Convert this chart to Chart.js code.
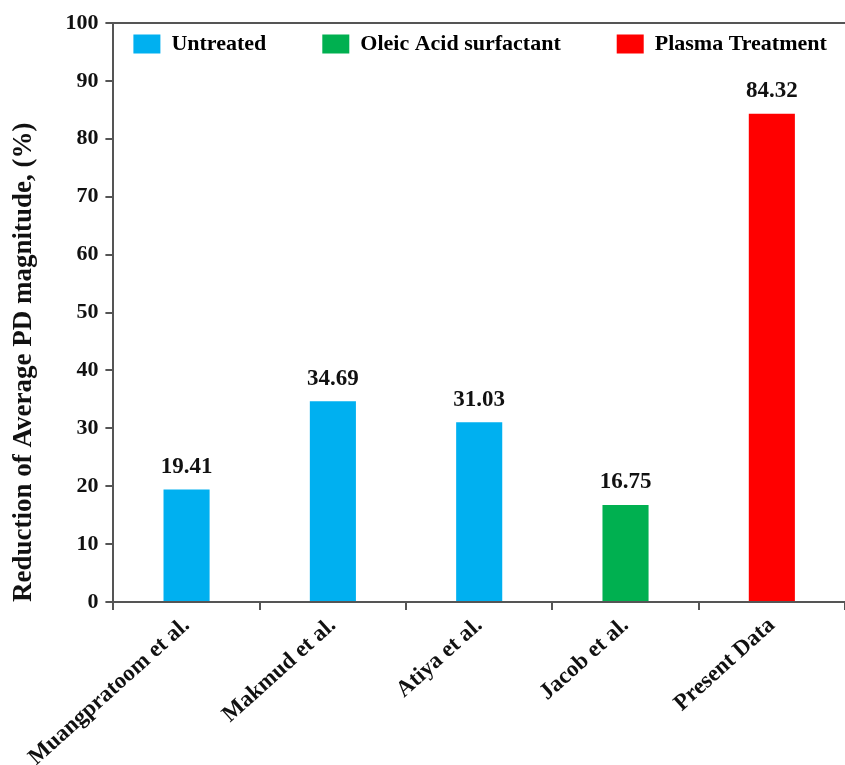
<!DOCTYPE html>
<html>
<head>
<meta charset="utf-8">
<script src="https://cdn.jsdelivr.net/npm/chart.js@4.4.1/dist/chart.umd.min.js"></script>
<style>
  html, body { margin: 0; padding: 0; background: #fff; }
  #wrap { width: 845px; height: 765px; }
</style>
</head>
<body>
<div id="wrap"><canvas id="chart"></canvas></div>
<script>
var categories = ['Muangpratoom et al.', 'Makmud et al.', 'Atiya et al.', 'Jacob et al.', 'Present Data'];
var reduction = [19.41, 34.69, 31.03, 16.75, 84.32];
var groupOfBar = [0, 0, 0, 1, 2];
var groups = ['Untreated', 'Oleic Acid surfactant', 'Plasma Treatment'];
var groupColors = ['#00B0F0', '#00B050', '#FF0000'];
var yTicks = [0, 10, 20, 30, 40, 50, 60, 70, 80, 90, 100];

var serif = '"Liberation Serif", "Times New Roman", serif';
var axisColor = '#555555';
var legendGap = 56;

// value labels above each bar
var valueLabels = {
    id: 'valueLabels',
    afterDatasetsDraw(chart) {
        var ctx = chart.ctx;
        var meta = chart.getDatasetMeta(0);
        ctx.save();
        ctx.font = 'bold 23px ' + serif;
        ctx.fillStyle = '#111';
        ctx.textAlign = 'center';
        ctx.textBaseline = 'bottom';
        meta.data.forEach((bar, i) => {
            ctx.fillText(reduction[i].toFixed(2), bar.x, bar.y - 11);
        });
        ctx.restore();
    }
};

// legend sits inside the plot (top left) on one row, so it takes no room from it
var legendInside = {
    id: 'legendInside',
    beforeLayout(chart) {
        var lg = chart.legend;
        if (lg && !lg._inside) {
            var fit = lg.fit;
            lg.fit = function () {
                this.maxWidth = 1500;
                fit.call(this);
                this._realHeight = this.height;
                this.height = 0;
            };
            lg._inside = true;
        }
    },
    afterLayout(chart) {
        var lg = chart.legend;
        var area = chart.chartArea;
        if (lg && lg._realHeight) {
            lg.left = area.left + 20 - legendGap;
            lg.right = area.right + 400;
            lg.width = lg.right - lg.left;
            lg.top = area.top + 10 - legendGap;
            lg.height = lg._realHeight + legendGap;
            lg.bottom = lg.top + lg.height;
        }
    }
};

new Chart(document.getElementById('chart').getContext('2d'), {
    type: 'bar',
    data: {
        labels: categories,
        datasets: [{
            data: reduction,
            backgroundColor: groupOfBar.map(g => groupColors[g]),
            barPercentage: 0.315,
            categoryPercentage: 1
        }]
    },
    options: {
        responsive: true,
        maintainAspectRatio: false,
        animation: false,
        layout: { padding: { left: 8, top: 23, right: 0, bottom: 0 } },
        plugins: {
            tooltip: { enabled: false },
            legend: {
                position: 'top',
                align: 'start',
                labels: {
                    boxWidth: 27,
                    boxHeight: 19,
                    padding: legendGap,
                    color: '#111',
                    font: { family: serif, size: 22, weight: 'bold' },
                    generateLabels: () => groups.map((g, i) => ({
                        text: g,
                        fillStyle: groupColors[i],
                        strokeStyle: groupColors[i],
                        lineWidth: 0,
                        hidden: false
                    }))
                }
            }
        },
        scales: {
            x: {
                grid: { drawOnChartArea: false, drawTicks: true, tickLength: 8, color: axisColor, lineWidth: 2 },
                border: { color: axisColor, width: 2 },
                ticks: {
                    color: '#111',
                    maxRotation: 42,
                    minRotation: 42,
                    padding: 2,
                    font: { family: serif, size: 23, weight: 'bold' }
                },
                afterFit(scale) {
                    scale.paddingLeft = 0;
                    scale.paddingRight = 0;
                    scale.height = 163;
                }
            },
            x2: {
                position: 'top',
                grid: { drawOnChartArea: false, drawTicks: false },
                border: { color: axisColor, width: 2 },
                ticks: { display: false },
                afterFit(scale) {
                    scale.height = 0;
                }
            },
            y: {
                min: 0,
                max: 100,
                afterBuildTicks(scale) {
                    scale.ticks = yTicks.map(v => ({ value: v }));
                },
                grid: { drawOnChartArea: false, drawTicks: true, tickLength: 8, color: axisColor, lineWidth: 2 },
                border: { color: axisColor, width: 2 },
                ticks: {
                    color: '#111',
                    padding: 7,
                    font: { family: serif, size: 22, weight: 'bold' }
                },
                title: {
                    display: true,
                    align: 'start',
                    text: 'Reduction of Average PD magnitude, (%)',
                    color: '#111',
                    padding: { top: 0, bottom: 18 },
                    font: { family: serif, size: 27, weight: 'bold' }
                }
            }
        }
    },
    plugins: [valueLabels, legendInside]
});
</script>
</body>
</html>
